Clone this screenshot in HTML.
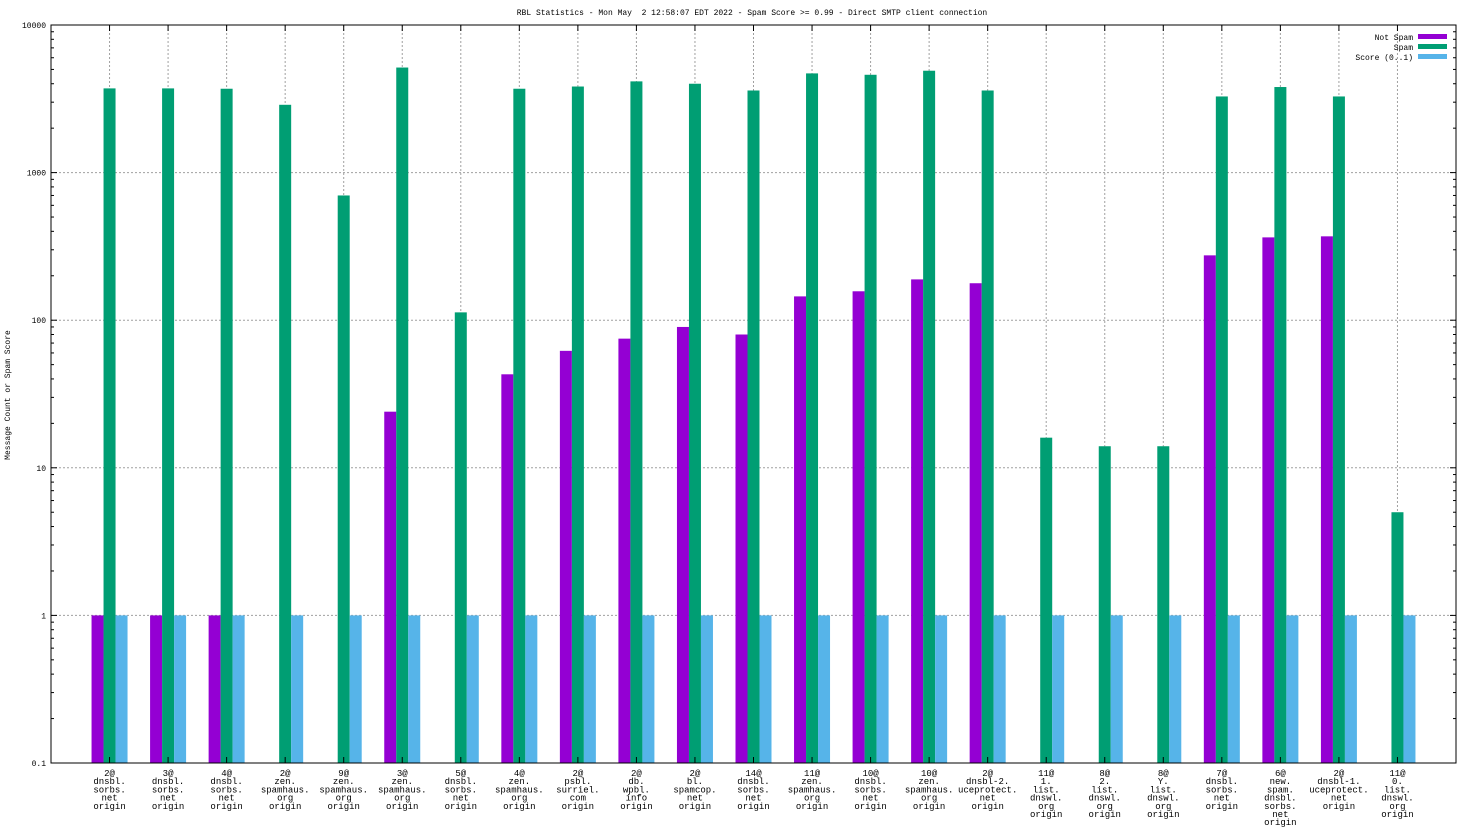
<!DOCTYPE html>
<html><head><meta charset="utf-8"><style>
html,body{margin:0;padding:0;background:#fff;}
svg{display:block;font-family:"Liberation Mono","DejaVu Sans Mono",monospace;}
</style></head><body>
<svg id="chart" width="1472" height="828" xmlns="http://www.w3.org/2000/svg">
<text x="752" y="15" font-size="8" text-anchor="middle" xml:space="preserve">RBL Statistics - Mon May  2 12:58:07 EDT 2022 - Spam Score &gt;= 0.99 - Direct SMTP client connection</text>
<text transform="translate(10,395) rotate(-90)" font-size="8" text-anchor="middle">Message Count or Spam Score</text>
<g id="grid"></g><g id="bars"></g><g id="axes"></g>
<g>
<text x="1413" y="40" font-size="8" text-anchor="end">Not Spam</text>
<rect x="1418" y="34" width="29" height="5" fill="#9400d3"/>
<text x="1413" y="50" font-size="8" text-anchor="end">Spam</text>
<rect x="1418" y="44" width="29" height="5" fill="#009e73"/>
<text x="1413" y="60" font-size="8" text-anchor="end">Score (0..1)</text>
<rect x="1418" y="54" width="29" height="5" fill="#56b4e9"/>
</g>
</svg>
<script>
const categories=[
"2@|dnsbl.|sorbs.|net|origin","3@|dnsbl.|sorbs.|net|origin","4@|dnsbl.|sorbs.|net|origin",
"2@|zen.|spamhaus.|org|origin","9@|zen.|spamhaus.|org|origin","3@|zen.|spamhaus.|org|origin",
"5@|dnsbl.|sorbs.|net|origin","4@|zen.|spamhaus.|org|origin","2@|psbl.|surriel.|com|origin",
"2@|db.|wpbl.|info|origin","2@|bl.|spamcop.|net|origin","14@|dnsbl.|sorbs.|net|origin",
"11@|zen.|spamhaus.|org|origin","10@|dnsbl.|sorbs.|net|origin","10@|zen.|spamhaus.|org|origin",
"2@|dnsbl-2.|uceprotect.|net|origin","11@|1.|list.|dnswl.|org|origin","8@|2.|list.|dnswl.|org|origin",
"8@|Y.|list.|dnswl.|org|origin","7@|dnsbl.|sorbs.|net|origin","6@|new.|spam.|dnsbl.|sorbs.|net|origin",
"2@|dnsbl-1.|uceprotect.|net|origin","11@|0.|list.|dnswl.|org|origin"];
const notSpam=[1,1,1,0,0,24,0,43,62,75,90,80,145,157,189,178,0,0,0,275,364,370,0];
const spam=[3720,3720,3700,2880,700,5150,113,3700,3830,4150,4000,3600,4700,4600,4900,3600,16,14,14,3280,3800,3280,5];
const score=[1,1,1,1,1,1,1,1,1,1,1,1,1,1,1,1,1,1,1,1,1,1,1];
const yTicks=[0.1,1,10,100,1000,10000];
const yTickLabels=["0.1","1","10","100","1000","10000"];

const NS="http://www.w3.org/2000/svg";
const L=51,R=1456,T=25,B=763;
function y(v){const lv=Math.log10(Math.max(v,0.1));return B-(lv+1)/5*(B-T);}
const step=(R-L)/(categories.length+1);
function xc(i){return L+step*(i+1);}
function mk(tag,attrs,parent){const e=document.createElementNS(NS,tag);for(const k in attrs)e.setAttribute(k,attrs[k]);parent.appendChild(e);return e;}
const grid=document.getElementById('grid'),bars=document.getElementById('bars'),axes=document.getElementById('axes');
yTicks.forEach((t,i)=>{
  const yy=y(t);
  if(i>0&&i<yTicks.length-1){const g=mk('line',{x1:L,x2:R,y1:yy,y2:yy,stroke:'#a0a0a0','stroke-dasharray':'2,2','stroke-width':1},grid);
  
  }
  const tl=mk('text',{x:L-5,y:yy+3,'font-size':8,'text-anchor':'end'},axes);tl.textContent=yTickLabels[i];
  
  
  mk('line',{x1:L,x2:L+6,y1:yy,y2:yy,stroke:'#000'},axes);
  mk('line',{x1:R,x2:R-6,y1:yy,y2:yy,stroke:'#000'},axes);
  if(i<yTicks.length-1){for(let m=2;m<10;m++){const my=y(t*m);
    mk('line',{x1:L,x2:L+3,y1:my,y2:my,stroke:'#000'},axes);
    mk('line',{x1:R,x2:R-3,y1:my,y2:my,stroke:'#000'},axes);}}
});
const bw=12,cols=['#9400d3','#009e73','#56b4e9'],series=[notSpam,spam,score],names=['not-spam','spam','score'];
categories.forEach((c,i)=>{
  const cx=xc(i);
  const gl=mk('line',{x1:cx,x2:cx,y1:T,y2:B,stroke:'#a0a0a0','stroke-dasharray':'2,2'},grid);
  
  
  mk('line',{x1:cx,x2:cx,y1:B,y2:B-6,stroke:'#000'},axes);
  mk('line',{x1:cx,x2:cx,y1:T,y2:T+6,stroke:'#000'},axes);
  series.forEach((s,k)=>{
    const v=s[i];if(v<=0.1)return;
    const x0=cx-bw*1.5+k*bw,yy=y(v);
    const r=mk('rect',{x:x0,y:yy,width:bw,height:B-yy,fill:cols[k]},bars);
    
    
  });
  const t=mk('text',{'font-size':9,'text-anchor':'middle'},axes);
  
  
  c.split('|').forEach((ln,j)=>{const ts=mk('tspan',{x:cx,y:776+j*8.2},t);ts.textContent=ln;});
});
mk('rect',{x:L,y:T,width:R-L,height:B-T,fill:'none',stroke:'#000','stroke-width':1},axes);
</script>
</body></html>
